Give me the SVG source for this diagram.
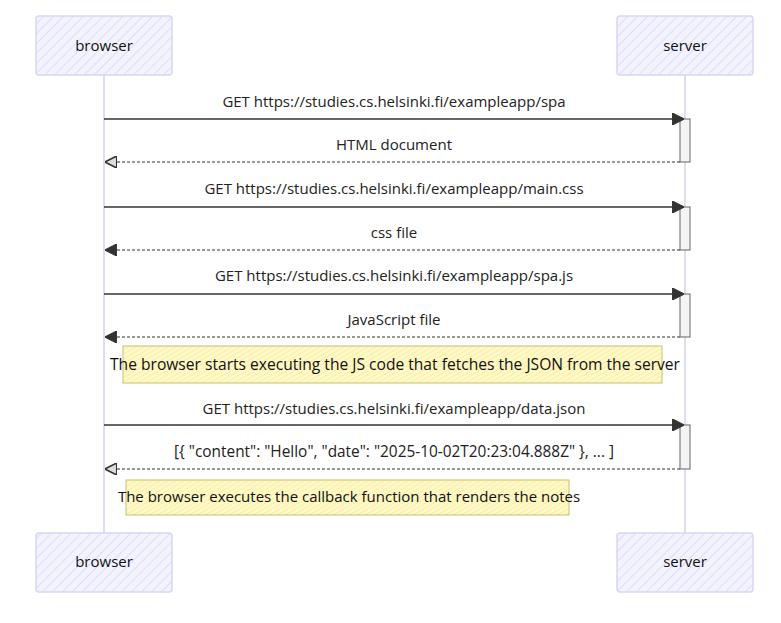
<svg xmlns="http://www.w3.org/2000/svg" width="781" height="623" viewBox="0 0 781 623">
<defs>
<pattern id="hatchA" patternUnits="userSpaceOnUse" width="7" height="7" patternTransform="rotate(45)">
<rect width="7" height="7" fill="#f3f3ff"/>
<line x1="0" y1="0" x2="0" y2="7" stroke="#dcdcf7" stroke-width="2"/>
</pattern>
<pattern id="hatchN" patternUnits="userSpaceOnUse" width="4" height="4" patternTransform="rotate(60)">
<rect width="4" height="4" fill="#fff8c8"/>
<line x1="0" y1="0" x2="0" y2="4" stroke="#f7e98a" stroke-width="1.2"/>
</pattern>
<marker id="arr" viewBox="0 0 10 10" refX="9" refY="5" markerWidth="12" markerHeight="12" markerUnits="userSpaceOnUse" orient="auto">
<path d="M0,0 L10,5 L0,10 z" fill="#333" stroke="#333" stroke-width="1"/>
</marker>
<marker id="arrO" viewBox="0 0 10 10" refX="9" refY="5" markerWidth="12" markerHeight="12" markerUnits="userSpaceOnUse" orient="auto">
<path d="M0,0 L10,5 L0,10 z" fill="#ddd" stroke="#333" stroke-width="1.4"/>
</marker>
</defs>
<style>
.actor{fill:url(#hatchA);stroke:#d9d6f3;stroke-width:1.5}
.atext{font-family:"Open Sans","Noto Sans",sans-serif;font-size:15px;fill:#111;text-anchor:middle}
.life{stroke:#d4d0f0;stroke-width:1.5}
.msg{stroke:#333;stroke-width:1.3;fill:none}
.ret{stroke:#333;stroke-width:1.2;fill:none;stroke-dasharray:3,2}
.mtext{font-family:"Open Sans","Noto Sans",sans-serif;font-size:15px;fill:#222;text-anchor:middle}
.act{fill:#f4f4f4;stroke:#666;stroke-width:1}
.note{fill:url(#hatchN);stroke:#c8c070;stroke-width:1}
.ntext{font-family:"Open Sans","Noto Sans",sans-serif;font-size:15px;fill:#111;text-anchor:middle}
</style>
<rect width="781" height="623" fill="#fff"/>
<g id="lifelines">
<line class="life" x1="104" y1="75" x2="104" y2="533"/>
<line class="life" x1="685" y1="75" x2="685" y2="533"/>
</g>
<g id="actor-browser-top"><rect class="actor" x="36" y="16" width="136" height="59" rx="3"/><text class="atext" x="104" y="51">browser</text></g>
<g id="actor-server-top"><rect class="actor" x="617" y="16" width="136" height="59" rx="3"/><text class="atext" x="685" y="51">server</text></g>
<g id="actor-browser-bottom"><rect class="actor" x="36" y="533" width="136" height="59" rx="3"/><text class="atext" x="104" y="567">browser</text></g>
<g id="actor-server-bottom"><rect class="actor" x="617" y="533" width="136" height="59" rx="3"/><text class="atext" x="685" y="567">server</text></g>
<g id="activations">
<rect class="act" x="680" y="119" width="10" height="43"/>
<rect class="act" x="680" y="207" width="10" height="43"/>
<rect class="act" x="680" y="294" width="10" height="43"/>
<rect class="act" x="680" y="425" width="10" height="44"/>
</g>
<g id="connectors">
<line class="msg" x1="104" y1="119" x2="683" y2="119" marker-end="url(#arr)"/>
<text class="mtext" x="394" y="107">GET https://studies.cs.helsinki.fi/exampleapp/spa</text>
<line class="ret" x1="680" y1="162" x2="106" y2="162" marker-end="url(#arrO)"/>
<text class="mtext" x="394" y="150">HTML document</text>
<line class="msg" x1="104" y1="207" x2="683" y2="207" marker-end="url(#arr)"/>
<text class="mtext" x="394" y="194">GET https://studies.cs.helsinki.fi/exampleapp/main.css</text>
<line class="ret" x1="680" y1="250" x2="106" y2="250" marker-end="url(#arr)"/>
<text class="mtext" x="394" y="238">css file</text>
<line class="msg" x1="104" y1="294" x2="683" y2="294" marker-end="url(#arr)"/>
<text class="mtext" x="394" y="281">GET https://studies.cs.helsinki.fi/exampleapp/spa.js</text>
<line class="ret" x1="680" y1="337" x2="106" y2="337" marker-end="url(#arr)"/>
<text class="mtext" x="394" y="325">JavaScript file</text>
<line class="msg" x1="104" y1="425" x2="683" y2="425" marker-end="url(#arr)"/>
<text class="mtext" x="394" y="414">GET https://studies.cs.helsinki.fi/exampleapp/data.json</text>
<line class="ret" x1="680" y1="469" x2="106" y2="469" marker-end="url(#arrO)"/>
<text class="mtext" x="394" y="457" style="font-size:15.4px">[{ "content": "Hello", "date": "2025-10-02T20:23:04.888Z" }, ... ]</text>
</g>
<g id="note-1"><rect class="note" x="123" y="346" width="539" height="37"/><text class="ntext" x="395" y="370" style="font-size:15.6px">The browser starts executing the JS code that fetches the JSON from the server</text></g>
<g id="note-2"><rect class="note" x="126" y="480" width="443" height="35"/><text class="ntext" x="349" y="502">The browser executes the callback function that renders the notes</text></g>
</svg>
